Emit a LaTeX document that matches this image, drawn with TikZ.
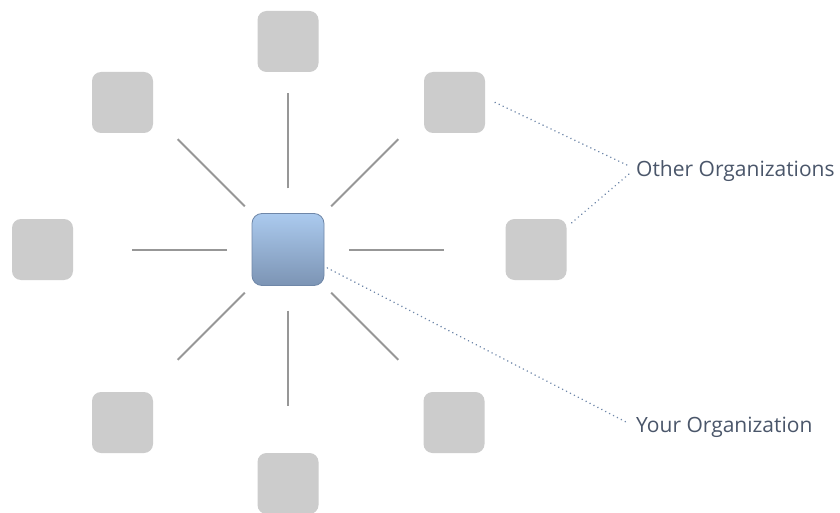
\documentclass[tikz,border=0pt]{standalone}
\usepackage{fontspec}
\setmainfont{Open Sans}
\usetikzlibrary{calc}
\definecolor{boxgray}{HTML}{CCCCCC}
\definecolor{spokegray}{HTML}{979797}
\definecolor{leadblue}{HTML}{7088AA}
\definecolor{txtcol}{HTML}{4A566A}
\definecolor{ctop}{HTML}{ABCAEE}
\definecolor{cbot}{HTML}{7C94B4}
\definecolor{cedge}{HTML}{6F87A8}
\begin{document}
\begin{tikzpicture}[x=1pt,y=-1pt,
  orgbox/.style={fill=boxgray,draw=none,minimum size=61pt,inner sep=0pt,rounded corners=9pt},
  yourbox/.style={top color=ctop,bottom color=cbot,draw=cedge,line width=0.8pt,minimum size=72pt,inner sep=0pt,rounded corners=10pt},
  spoke/.style={draw=spokegray,line width=2pt},
  leader/.style={draw=leadblue,line width=1.7pt,line cap=round,dash pattern=on 0.01pt off 4.4pt},
  lbl/.style={text=txtcol,font=\fontsize{21pt}{25pt}\selectfont,inner sep=0pt,anchor=base west}]
\useasboundingbox (0,0) rectangle (840,513);
\fill[white] (0,0) rectangle (840,513);
% outer organizations
\node[orgbox] (top) at (288,41.5) {};
\node[orgbox] (ul) at (122.5,102.5) {};
\node[orgbox] (ur) at (454.5,102.5) {};
\node[orgbox] (l) at (42.5,249.5) {};
\node[orgbox] (r) at (536,249.5) {};
\node[orgbox] (bl) at (122.5,422.5) {};
\node[orgbox] (br) at (454,422.5) {};
\node[orgbox] (b) at (288,483.5) {};
% your organization
\node[yourbox] (c) at (288,249.5) {};
% spokes
\foreach \a in {0,45,90,135,180,225,270,315}{
  \draw[spoke] ([shift={(\a:61)}]c.center) -- ++(\a:95);
}
% labels
\node[lbl] (oo) at (636,176.5) {Other Organizations};
\node[lbl] (yo) at (636,432.5) {Your Organization};
\coordinate (oa) at (629,166);
\coordinate (ob) at (629,174);
\coordinate (ya) at (628,423);
\draw[leader] ([xshift=10pt]ur.east) -- (oa);
\draw[leader] ([shift={(5pt,-4pt)}]r.north east) -- (ob);
\draw[leader] ([shift={(3pt,-18.5pt)}]c.east) -- (ya);
\end{tikzpicture}
\end{document}
